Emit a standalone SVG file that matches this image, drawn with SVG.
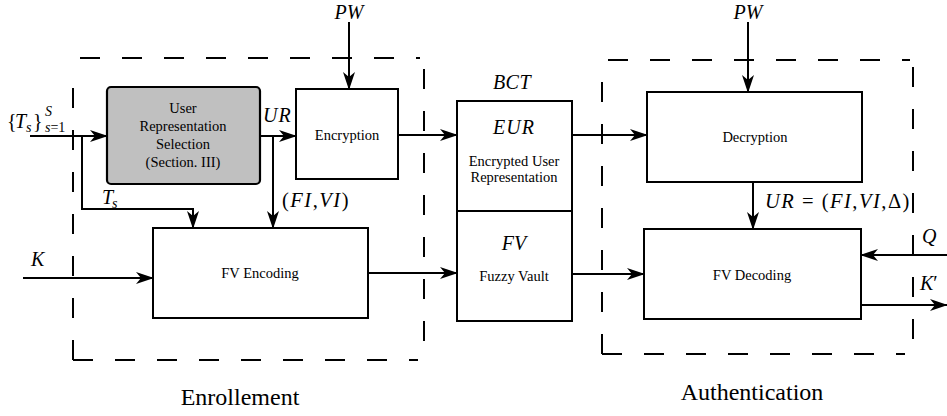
<svg xmlns="http://www.w3.org/2000/svg" width="947" height="416" viewBox="0 0 947 416" font-family="'Liberation Serif', 'Times New Roman', 'DejaVu Serif', serif">
<style>
.box{fill:#fff;stroke:#000;stroke-width:2}
.gray{fill:#c0c0c0;stroke:#000;stroke-width:2.2}
.dash{fill:none;stroke:#000;stroke-width:2;stroke-dasharray:20 22}
.con{fill:none;stroke:#000;stroke-width:2;marker-end:url(#ah)}
.line{fill:none;stroke:#000;stroke-width:2}
text{font-family:"Liberation Serif","Times New Roman","DejaVu Serif",serif;fill:#000}
.t{font-size:14.5px;text-anchor:middle}
.m{font-size:20px;font-style:italic}
.wide{letter-spacing:1.5px;font-size:20.5px}
.r{font-size:20px}
.sub{font-size:14px;font-style:italic}
.big{font-size:24px;text-anchor:middle}
</style>
<defs>
<marker id="ah" markerUnits="userSpaceOnUse" markerWidth="18" markerHeight="12" viewBox="0 0 18 12" refX="17" refY="6" orient="auto">
<path d="M0,0 L18,6 L0,12 L5,6 Z" fill="#000"/>
</marker>
</defs>

<g id="enroll-frame">
<path class="dash" d="M73,360 V75"/>
<path class="dash" d="M73,360 H418"/>
<path class="dash" d="M80,58 H420"/>
<path class="dash" d="M424,69 V362"/>
<text class="big" x="240" y="405">Enrollement</text>
</g>
<g id="auth-frame">
<path class="dash" d="M602,354 V77"/>
<path class="dash" d="M602,354 H905"/>
<path class="dash" d="M608,60 H910"/>
<path class="dash" d="M913,67 V356"/>
<text class="big" x="752" y="400">Authentication</text>
</g>

<g id="connectors">
<path class="con" d="M30,136 H107"/>
<path class="con" d="M82,136 V209 H193 V228"/>
<path class="con" d="M260,136 H296"/>
<path class="con" d="M273,136 V228"/>
<path class="con" d="M349,22 V89"/>
<path class="con" d="M398,135 H457"/>
<path class="con" d="M23,278 H153"/>
<path class="con" d="M368,273 H457"/>
<path class="con" d="M572,135 H647"/>
<path class="con" d="M748,22 V92"/>
<path class="con" d="M753,182 V229"/>
<path class="con" d="M572,274 H644"/>
<path class="con" d="M947,255 H861"/>
<path class="con" d="M861,305 H947"/>
</g>

<g id="labels">
<text class="r" x="7" y="128">{</text>
<text class="m" x="15" y="128">T</text>
<text class="sub" x="26" y="132">s</text>
<text class="r" x="33" y="128">}</text>
<text class="sub" x="45" y="116">S</text>
<text class="sub" x="45" y="132">s<tspan font-style="normal">=1</tspan></text>
<text class="m" x="102" y="204">T</text>
<text class="sub" x="112" y="208">s</text>
<text class="m" x="263" y="122" letter-spacing="1">UR</text>
<text class="m wide" x="282" y="207"><tspan font-style="normal">(</tspan>FI<tspan font-style="normal">,</tspan>VI<tspan font-style="normal">)</tspan></text>
<text class="m" x="349" y="19" text-anchor="middle">PW</text>
<text class="m" x="748" y="19" text-anchor="middle">PW</text>
<text class="m" x="512" y="89" text-anchor="middle" letter-spacing="0.5">BCT</text>
<text class="m" x="31" y="266">K</text>
<text class="m wide" x="765" y="208">UR<tspan font-style="normal"> = (</tspan>FI<tspan font-style="normal">,</tspan>VI<tspan font-style="normal">,Δ)</tspan></text>
<text class="m" x="922" y="243">Q</text>
<text class="m" x="920" y="290">K<tspan font-style="normal">′</tspan></text>
</g>

<g id="urs">
<rect class="gray" x="107" y="87" width="153" height="97" rx="4"/>
<text class="t" x="183" y="113">User</text>
<text class="t" x="183" y="131">Representation</text>
<text class="t" x="183" y="149">Selection</text>
<text class="t" x="183" y="167">(Section. III)</text>
</g>
<g id="encryption">
<rect class="box" x="296" y="89" width="102" height="90"/>
<text class="t" x="347" y="140">Encryption</text>
</g>
<g id="fv-encoding">
<rect class="box" x="153" y="228" width="215" height="90"/>
<text class="t" x="260" y="278">FV Encoding</text>
</g>
<g id="bct">
<rect class="box" x="457" y="101" width="115" height="220"/>
<path class="line" d="M457,211 H572"/>
<text class="m" x="514" y="134" text-anchor="middle" letter-spacing="1">EUR</text>
<text class="t" x="514" y="166">Encrypted User</text>
<text class="t" x="514" y="182">Representation</text>
<text class="m" x="514" y="250" text-anchor="middle">FV</text>
<text class="t" x="514" y="281">Fuzzy Vault</text>
</g>
<g id="decryption">
<rect class="box" x="647" y="92" width="215" height="90"/>
<text class="t" x="755" y="142">Decryption</text>
</g>
<g id="fv-decoding">
<rect class="box" x="644" y="229" width="217" height="90"/>
<text class="t" x="752" y="280">FV Decoding</text>
</g>
</svg>
